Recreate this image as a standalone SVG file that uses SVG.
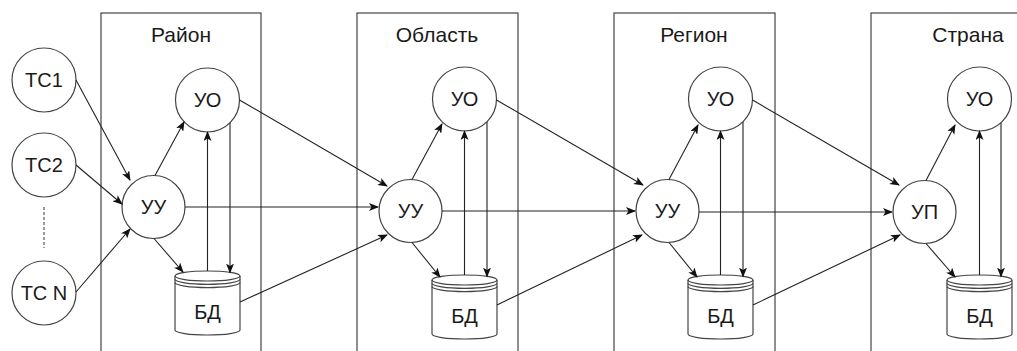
<svg xmlns="http://www.w3.org/2000/svg" width="1017" height="351" viewBox="0 0 1017 351">
<defs>
<marker id="arr" markerUnits="userSpaceOnUse" markerWidth="10" markerHeight="8" refX="9" refY="4" orient="auto">
<path d="M0,0 L10,4 L0,8 L2.5,4 Z" fill="#111"/>
</marker>
</defs>
<style>
.box{fill:none;stroke:#444;stroke-width:1.2}
.node{fill:#fff;stroke:#444;stroke-width:1.2}
.cyl{fill:#fff;stroke:#444;stroke-width:1.2}
.cl{fill:none;stroke:#444;stroke-width:1.2}
.t{font-family:"Liberation Sans",Arial,sans-serif;font-size:20px;fill:#1a1a1a;text-anchor:middle}
.h{font-size:21px}
.c line{stroke:#222;stroke-width:1.1;marker-end:url(#arr)}
</style>
<rect x="0" y="0" width="1017" height="351" fill="#fff"/>
<g id="zone-rayon"><rect class="box" x="101" y="13" width="160" height="360"/><text class="t h" x="181" y="42">Район</text></g>
<g id="zone-oblast"><rect class="box" x="357" y="13" width="161" height="360"/><text class="t h" x="437" y="42">Область</text></g>
<g id="zone-region"><rect class="box" x="614" y="13" width="161" height="360"/><text class="t h" x="694" y="42">Регион</text></g>
<g id="zone-strana"><rect class="box" x="871" y="13" width="200" height="360"/><text class="t h" x="968" y="42">Страна</text></g>

<g id="tc1"><circle class="node" cx="44" cy="80" r="32"/><text class="t" x="44" y="87">ТС1</text></g>
<g id="tc2"><circle class="node" cx="44" cy="165" r="32"/><text class="t" x="44" y="172">ТС2</text></g>
<g id="dots"><line x1="44" y1="207" x2="44" y2="248" stroke="#333" stroke-width="1" stroke-dasharray="3,2"/></g>
<g id="tcn"><circle class="node" cx="44" cy="293" r="32"/><text class="t" x="44" y="300">ТС N</text></g>

<g id="c-ray"><circle class="node" cx="153.5" cy="207" r="31.5"/><text class="t" x="153.5" y="214">УУ</text></g>
<g id="o-ray"><circle class="node" cx="207.5" cy="100" r="32"/><text class="t" x="207.5" y="107">УО</text></g>
<g id="db-ray"><path class="cyl" d="M175,276 A32.5,5 0 0 1 240,276 L240,330 A32.5,5 0 0 1 175,330 Z"/><path class="cl" d="M175,276 A32.5,5 0 0 0 240,276 M175,279.3 A32.5,5 0 0 0 240,279.3 M175,282.6 A32.5,5 0 0 0 240,282.6"/><text class="t" x="207.5" y="319">БД</text></g>

<g id="c-obl"><circle class="node" cx="410.5" cy="211" r="31.5"/><text class="t" x="410.5" y="218">УУ</text></g>
<g id="o-obl"><circle class="node" cx="464.5" cy="99" r="32"/><text class="t" x="464.5" y="106">УО</text></g>
<g id="db-obl"><path class="cyl" d="M432,280 A32.5,5 0 0 1 497,280 L497,334 A32.5,5 0 0 1 432,334 Z"/><path class="cl" d="M432,280 A32.5,5 0 0 0 497,280 M432,283.3 A32.5,5 0 0 0 497,283.3 M432,286.6 A32.5,5 0 0 0 497,286.6"/><text class="t" x="464.5" y="323">БД</text></g>

<g id="c-reg"><circle class="node" cx="667.5" cy="211" r="31.5"/><text class="t" x="667.5" y="218">УУ</text></g>
<g id="o-reg"><circle class="node" cx="720.5" cy="99" r="32"/><text class="t" x="720.5" y="106">УО</text></g>
<g id="db-reg"><path class="cyl" d="M688,280 A32.5,5 0 0 1 753,280 L753,334 A32.5,5 0 0 1 688,334 Z"/><path class="cl" d="M688,280 A32.5,5 0 0 0 753,280 M688,283.3 A32.5,5 0 0 0 753,283.3 M688,286.6 A32.5,5 0 0 0 753,286.6"/><text class="t" x="720.5" y="323">БД</text></g>

<g id="c-str"><circle class="node" cx="924.5" cy="212" r="31.5"/><text class="t" x="924.5" y="219">УП</text></g>
<g id="o-str"><circle class="node" cx="979.5" cy="99" r="32"/><text class="t" x="979.5" y="106">УО</text></g>
<g id="db-str"><path class="cyl" d="M947,280 A32.5,5 0 0 1 1012,280 L1012,334 A32.5,5 0 0 1 947,334 Z"/><path class="cl" d="M947,280 A32.5,5 0 0 0 1012,280 M947,283.3 A32.5,5 0 0 0 1012,283.3 M947,286.6 A32.5,5 0 0 0 1012,286.6"/><text class="t" x="979.5" y="323">БД</text></g>

<g id="connectors" class="c">
<line x1="76" y1="80" x2="130" y2="180"/>
<line x1="76" y1="165" x2="122" y2="204"/>
<line x1="76" y1="292" x2="130" y2="229"/>
<line x1="155" y1="175.5" x2="184" y2="122"/>
<line x1="154" y1="238.5" x2="183" y2="272"/>
<line x1="207.5" y1="271" x2="207.5" y2="132"/>
<line x1="230" y1="122.7" x2="230" y2="272.5"/>
<line x1="239.5" y1="100" x2="387" y2="186"/>
<line x1="185" y1="207" x2="378" y2="207"/>
<line x1="240" y1="302" x2="387" y2="235"/>

<line x1="412" y1="179.5" x2="442" y2="124"/>
<line x1="412" y1="242.5" x2="440" y2="277"/>
<line x1="464.5" y1="275" x2="464.5" y2="131"/>
<line x1="487" y1="122" x2="487" y2="276.5"/>
<line x1="496.5" y1="100" x2="643" y2="185"/>
<line x1="442" y1="211" x2="635" y2="211"/>
<line x1="497" y1="305" x2="642" y2="235"/>

<line x1="669" y1="179.5" x2="698" y2="125"/>
<line x1="669" y1="242.5" x2="697" y2="277"/>
<line x1="720.5" y1="275" x2="720.5" y2="131"/>
<line x1="743" y1="122" x2="743" y2="276.5"/>
<line x1="752.5" y1="100" x2="899" y2="185"/>
<line x1="699" y1="212" x2="892" y2="212"/>
<line x1="753" y1="305" x2="900" y2="235"/>

<line x1="926" y1="180.5" x2="955" y2="125"/>
<line x1="926" y1="243.5" x2="955" y2="277"/>
<line x1="979.5" y1="275" x2="979.5" y2="131"/>
<line x1="1001" y1="122.7" x2="1001" y2="276.5"/>
</g>
</svg>
